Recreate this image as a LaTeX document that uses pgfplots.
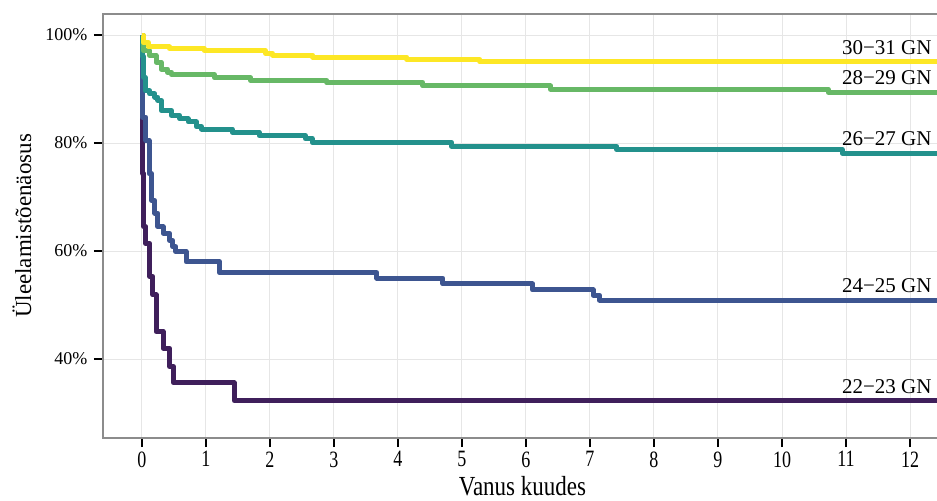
\documentclass[border=0pt]{standalone}
\usepackage{pgfplots}
\pgfplotsset{compat=1.18}
\usepackage{fontspec}
\setmainfont{Liberation Serif}

\definecolor{g2223}{HTML}{3F1F5B}
\definecolor{g2425}{HTML}{3D5590}
\definecolor{g2627}{HTML}{23918C}
\definecolor{g2829}{HTML}{67B866}
\definecolor{g3031}{HTML}{FDE725}
\definecolor{gridgray}{HTML}{E6E6E6}
\definecolor{framegray}{HTML}{8C8C8C}

\begin{document}
\begin{tikzpicture}
\begin{axis}[
  scale only axis,
  width=839pt, height=424pt,
  xmin=-0.609, xmax=12.5,
  ymin=25.37, ymax=103.9,
  xtick={0,1,2,3,4,5,6,7,8,9,10,11,12},
  xticklabel={\scalebox{1}[1.3]{\pgfmathprintnumber{\tick}}},
  ytick={40,60,80,100},
  yticklabels={40\%,60\%,80\%,100\%},
  /pgf/number format/assume math mode=true,
  tick pos=left,
  tick align=outside,
  major tick length=9pt,
  every tick/.style={black, line width=2.5pt},
  grid=major,
  major grid style={gridgray, line width=1pt},
  axis line style={framegray, line width=2.5pt},
  ticklabel style={font=\fontsize{18}{21}\selectfont, black},
  yticklabel style={xshift=-3pt},
  xticklabel style={yshift=-1pt},
  every axis x label/.style={at={(axis description cs:0.5,0)}, anchor=center, yshift=-48pt},
  every axis y label/.style={at={(axis description cs:0,0.5)}, xshift=-81pt, anchor=center, rotate=90},
  label style={font=\fontsize{23}{27}\selectfont},
  xlabel={\scalebox{1}[1.2]{Vanus kuudes}},
  ylabel={Üleelamistõenäosus},
  every axis plot/.style={const plot, line width=5pt, line join=round},
  clip=true,
]
% 22-23 GN
\addplot[g2223] coordinates {
  (0,100) (0.01,74.3) (0.03,64.5) (0.06,61.4) (0.12,55.3) (0.17,51.9)
  (0.22,45.1) (0.33,42.0) (0.43,38.6) (0.49,35.6) (1.44,32.3) (12.5,32.3)
};
% 24-25 GN
\addplot[g2425] coordinates {
  (0,100) (0.01,84.8) (0.06,80.5) (0.11,74.3) (0.15,69.4) (0.2,67.0)
  (0.25,64.5) (0.33,63.3) (0.43,62.0) (0.48,60.8) (0.53,59.9) (0.69,58.0)
  (1.21,56.0) (3.67,55.0) (4.7,53.9) (6.1,52.8) (7.05,51.8) (7.15,50.9)
  (12.5,50.9)
};
% 26-27 GN
\addplot[g2627] coordinates {
  (0,100) (0.01,96.0) (0.03,92.2) (0.05,89.7) (0.12,89.1) (0.2,88.5)
  (0.25,87.9) (0.3,86.0) (0.46,85.1) (0.59,84.5) (0.72,83.9) (0.85,83.0)
  (0.93,82.6) (1.41,82.0) (1.83,81.4) (2.55,80.8) (2.66,80.1) (4.84,79.4)
  (7.42,78.8) (10.94,78.1) (12.5,78.1)
};
% 28-29 GN
\addplot[g2829] coordinates {
  (0,100) (0.02,97.1) (0.12,96.2) (0.22,95.0) (0.3,93.7) (0.4,93.1)
  (0.46,92.7) (1.13,92.1) (1.7,91.6) (2.89,91.2) (4.39,90.6) (6.38,90.0)
  (10.72,89.4) (12.5,89.4)
};
% 30-31 GN
\addplot[g3031] coordinates {
  (0,100) (0.02,98.6) (0.1,97.8) (0.43,97.5) (0.97,97.1) (1.93,96.6)
  (2.04,96.3) (2.67,95.9) (4.14,95.5) (5.28,95.1) (12.5,95.1)
};
\begin{scope}[every node/.style={anchor=base east, yshift=7.5pt, inner sep=0pt, font=\fontsize{21}{24}\selectfont}]
\node at (axis cs:12.34,95.1) {30−31 GN};
\node at (axis cs:12.34,89.4) {28−29 GN};
\node at (axis cs:12.34,78.1) {26−27 GN};
\node at (axis cs:12.34,50.9) {24−25 GN};
\node at (axis cs:12.34,32.3) {22−23 GN};
\end{scope}
\end{axis}
\pgfresetboundingbox
\path ([xshift=-103pt,yshift=-62pt]current axis.south west) rectangle ([xshift=-5pt,yshift=14pt]current axis.north east);
\end{tikzpicture}
\end{document}
